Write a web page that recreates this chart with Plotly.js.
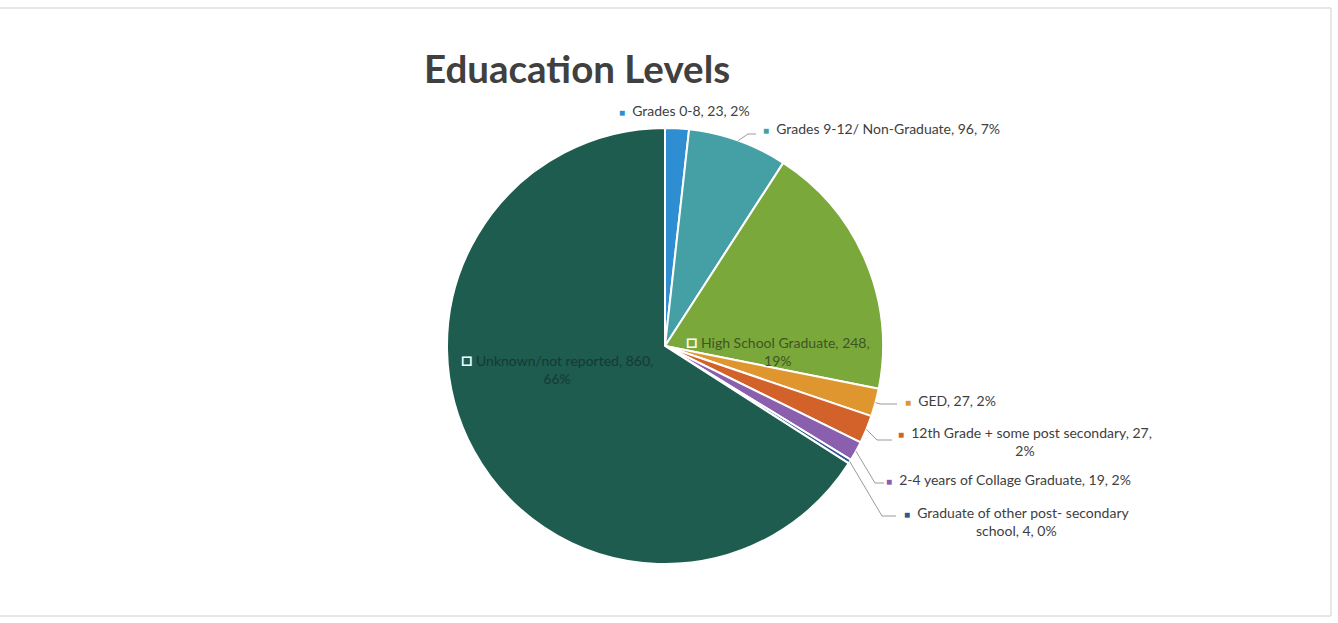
<!DOCTYPE html>
<html><head><meta charset="utf-8">
<script src="https://cdn.plot.ly/plotly-3.0.1.min.js"></script>
<style>html,body{margin:0;padding:0;background:#fff}</style>
</head><body><div id="chart" style="width:1338px;height:623px"></div>
<script>
// ---- data ----
const categories = ['Grades 0-8', 'Grades 9-12/ Non-Graduate', 'High School Graduate', 'GED',
  '12th Grade + some post secondary', '2-4 years of Collage Graduate',
  'Graduate of other post- secondary school', 'Unknown/not reported'];
const counts = [23, 96, 248, 27, 27, 19, 4, 860];
const percentLabels = ['2%', '7%', '19%', '2%', '2%', '2%', '0%', '66%'];

// ---- styling / layout config ----
const colors = ['#2f8ed2', '#45a0a6', '#7aa83b', '#e0962e', '#d2612a', '#8a5fae', '#2b5a8f', '#1d5c4f'];
const W = 1338, H = 623;
const CX = 665, CY = 346, R = 218;
// label anchor (left edge of marker, y centre of first line), wrap width in chars, text colour, inside?
const labelPos = [
  [617, 110, 60, '#404040', false],
  [761, 128, 60, '#404040', false],
  [684, 337, 27, '#3f5525', true],
  [903, 400, 60, '#404040', false],
  [896, 432, 37, '#404040', false],
  [884, 479, 60, '#404040', false],
  [902, 512, 34, '#404040', false],
  [459, 355, 27, '#173a31', true]
];
// elbow points of leader lines (null = no leader)
const leaderElbow = [null, [748, 134], null, [880, 404], [877, 440], [875, 483], [882, 516], null];
const leaderEnd = [null, [756, 134], null, [897, 404], [892, 440], [884, 483], [896, 516], null];

const px = x => x / W, py = y => 1 - y / H;

function wrap(text, width) {
  const words = text.split(' ');
  const lines = []; let cur = '';
  for (const w of words) {
    const cand = cur ? cur + ' ' + w : w;
    if (cand.length > width && cur) { lines.push(cur); cur = w; } else cur = cand;
  }
  if (cur) lines.push(cur);
  return lines;
}

const total = counts.reduce((a, b) => a + b, 0);
const annotations = [];
const shapes = [];
let cum = 0;
counts.forEach((v, i) => {
  const mid = (cum + v / 2) / total * 2 * Math.PI;
  cum += v;
  const [lx, ly, ww, tc, inside] = labelPos[i];
  const full = categories[i] + ', ' + v + ', ' + percentLabels[i];
  const lines = wrap(full, ww);
  const marker = inside
    ? '<span style="color:#ffffff;font-size:19px"><b>□</b></span> '
    : '<span style="color:' + colors[i] + ';font-size:10px">■</span>  ';
  const text = marker + lines.join('<br>');
  annotations.push({
    xref: 'paper', yref: 'paper', x: px(lx), y: py(ly - 10), xanchor: 'left', yanchor: 'top',
    align: 'center', showarrow: false, text: text,
    font: {family: 'Lato, "Open Sans", sans-serif', size: 14, color: tc}
  });
  if (leaderElbow[i]) {
    const sx = CX + R * Math.sin(mid), sy = CY - R * Math.cos(mid);
    const e = leaderElbow[i], f = leaderEnd[i];
    shapes.push({
      type: 'path', xref: 'paper', yref: 'paper',
      path: 'M ' + px(sx) + ' ' + py(sy) + ' L ' + px(e[0]) + ' ' + py(e[1]) + ' L ' + px(f[0]) + ' ' + py(f[1]),
      line: {color: '#9a9a9a', width: 1}
    });
  }
});

// chart frame
shapes.push({type: 'line', xref: 'paper', yref: 'paper', x0: 0, x1: px(1331), y0: py(8), y1: py(8), line: {color: '#cfcfcf', width: 1}});
shapes.push({type: 'line', xref: 'paper', yref: 'paper', x0: px(1331), x1: px(1331), y0: py(8), y1: py(616), line: {color: '#cfcfcf', width: 1}});
shapes.push({type: 'line', xref: 'paper', yref: 'paper', x0: 0, x1: px(1331), y0: py(616), y1: py(616), line: {color: '#cfcfcf', width: 1}});

const trace = {
  type: 'pie', labels: categories, values: counts, sort: false, direction: 'clockwise', rotation: 0,
  marker: {colors: colors, line: {color: '#ffffff', width: 2}},
  textinfo: 'none', hoverinfo: 'none', showlegend: false,
  domain: {x: [px(CX - R), px(CX + R)], y: [py(CY + R), py(CY - R)]}
};

const layout = {
  width: W, height: H, margin: {l: 0, r: 0, t: 0, b: 0},
  paper_bgcolor: '#ffffff', plot_bgcolor: '#ffffff',
  title: {text: '<b>Eduacation Levels</b>', xref: 'paper', yref: 'paper', x: px(424), xanchor: 'left',
    y: py(70), yanchor: 'middle', font: {family: 'Lato, "Open Sans", sans-serif', size: 38.5, color: '#404040'}},
  annotations: annotations, shapes: shapes, showlegend: false
};

Plotly.newPlot('chart', [trace], layout, {displayModeBar: false, staticPlot: true});
</script></body></html>
